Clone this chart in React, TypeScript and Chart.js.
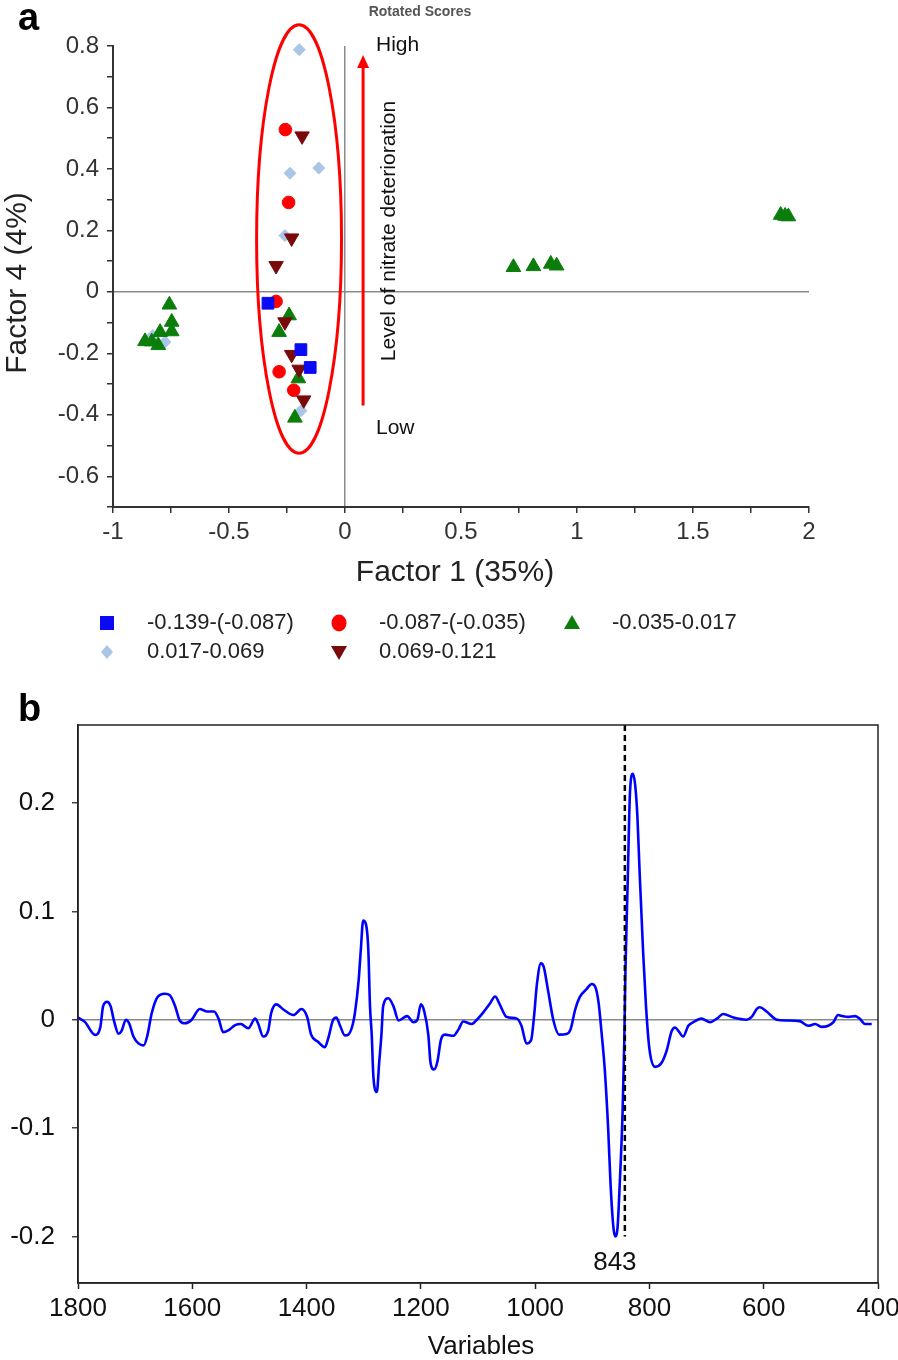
import React, { useEffect, useRef } from "react";
import { Chart, registerables } from "chart.js";

Chart.register(...registerables);

const FONT = "'Liberation Sans', Arial, Helvetica, sans-serif";

// ---------- Panel a: rotated scores ----------
const LEGEND_LABELS = [
  "-0.139-(-0.087)",
  "-0.087-(-0.035)",
  "-0.035-0.017",
  "0.017-0.069",
  "0.069-0.121",
];

const blueSquares = [
  { x: -0.332, y: -0.037 },
  { x: -0.19, y: -0.188 },
  { x: -0.15, y: -0.246 },
];

const redCircles = [
  { x: -0.257, y: 0.528 },
  { x: -0.243, y: 0.291 },
  { x: -0.297, y: -0.031 },
  { x: -0.284, y: -0.26 },
  { x: -0.221, y: -0.32 },
];

const greenTriangles = [
  { x: -0.241, y: -0.077 },
  { x: -0.284, y: -0.131 },
  { x: -0.201, y: -0.282 },
  { x: -0.216, y: -0.41 },
  { x: -0.757, y: -0.042 },
  { x: -0.747, y: -0.098 },
  { x: -0.747, y: -0.129 },
  { x: -0.797, y: -0.131 },
  { x: -0.862, y: -0.161 },
  { x: -0.805, y: -0.174 },
  { x: -0.833, y: -0.162 },
  { x: 0.726, y: 0.08 },
  { x: 0.812, y: 0.083 },
  { x: 0.887, y: 0.091 },
  { x: 0.912, y: 0.085 },
  { x: 1.878, y: 0.25 },
  { x: 1.911, y: 0.245 },
  { x: 1.897, y: 0.247 },
];

const blueDiamonds = [
  { x: -0.197, y: 0.788 },
  { x: -0.237, y: 0.386 },
  { x: -0.113, y: 0.403 },
  { x: -0.259, y: 0.183 },
  { x: -0.19, y: -0.387 },
  { x: -0.776, y: -0.163 },
  { x: -0.828, y: -0.142 },
];

const darkRedTriangles = [
  { x: -0.185, y: 0.507 },
  { x: -0.23, y: 0.175 },
  { x: -0.297, y: 0.085 },
  { x: -0.259, y: -0.098 },
  { x: -0.23, y: -0.204 },
  { x: -0.198, y: -0.252 },
  { x: -0.178, y: -0.352 },
];

const A_X_TICKS = [-1, -0.75, -0.5, -0.25, 0, 0.25, 0.5, 0.75, 1, 1.25, 1.5, 1.75, 2];
const A_Y_TICKS = [-0.7, -0.6, -0.5, -0.4, -0.3, -0.2, -0.1, 0, 0.1, 0.2, 0.3, 0.4, 0.5, 0.6, 0.7, 0.8];

// ellipse and arrow annotation (data units)
const ELLIPSE = { cx: -0.198, cy: 0.172, rx: 0.183, ry: 0.697 };
const ARROW = { x: 0.078, y0: -0.37, y1: 0.771 };

// ---------- Panel b: loadings spectrum ----------
const B_WAVENUMBERS = [
  1800, 1788, 1770, 1761, 1756, 1749, 1743, 1737, 1729, 1724, 1716, 1710, 1703, 1694, 1685, 1679,
  1671, 1661, 1648, 1639, 1630, 1622, 1613, 1601, 1587, 1575, 1562, 1554, 1546, 1537, 1525, 1515,
  1502, 1490, 1485, 1476, 1467, 1462, 1453, 1440, 1423, 1409, 1399, 1392, 1380, 1368, 1362, 1354,
  1348, 1341, 1333, 1327, 1319, 1315, 1309, 1305, 1301, 1296, 1292, 1289, 1286, 1283, 1277, 1273,
  1269, 1266, 1257, 1248, 1239, 1224, 1213, 1206, 1200, 1194, 1187, 1183, 1177, 1171, 1165, 1158,
  1143, 1134, 1126, 1111, 1102, 1091, 1080, 1070, 1062, 1050, 1032, 1024, 1015, 1007, 1002, 997,
  990, 985, 977, 968, 958, 945, 938, 930, 922, 910, 901, 895, 889, 884, 878, 872,
  868, 863, 860, 856, 852, 847, 844, 842, 838, 834, 829, 825, 821, 817, 811, 806,
  800, 790, 779, 770, 761, 755, 749, 741, 732, 723, 709, 694, 682, 671, 653, 630,
  621, 612, 607, 595, 577, 560, 537, 522, 510, 499, 487, 478, 470, 462, 452, 440,
  432, 423, 411,
];

const B_LOADINGS = [
  0.002, -0.002, -0.014, -0.007, 0.0125, 0.0165, 0.0125, -0.001, -0.013, -0.0105, 0.0, -0.004, -0.0155, -0.022, -0.0237, -0.0155,
  0.006, 0.0208, 0.024, 0.0224, 0.0125, -0.0007, -0.0033, 0.0, 0.0099, 0.0076, 0.0076, 0.001, -0.0115, -0.0099, -0.005, -0.004,
  -0.0079, 0.001, -0.0033, -0.0155, -0.0099, 0.006, 0.0142, 0.0092, 0.0043, 0.0099, 0.0026, -0.0138, -0.0204, -0.0254, -0.017, -0.0007,
  0.002, -0.006, -0.0145, -0.0138, -0.004, 0.0076, 0.0356, 0.065, 0.0916, 0.088, 0.065, 0.0125, -0.0138, -0.053, -0.0666, -0.04,
  -0.0138, 0.0125, 0.0198, 0.0125, -0.0007, 0.0033, -0.0023, 0.0, 0.0142, 0.0076, -0.0138, -0.04, -0.046, -0.0386, -0.0188, -0.0138,
  -0.0148, -0.0089, -0.0016, -0.004, 0.0, 0.0066, 0.0142, 0.0214, 0.0142, 0.0026, 0.001, -0.0056, -0.022, -0.0188, 0.0026, 0.0323,
  0.052, 0.0488, 0.0257, -0.0007, -0.0138, -0.0132, -0.0089, 0.0092, 0.0208, 0.0283, 0.033, 0.0306, 0.0158, -0.0105, -0.047, -0.103,
  -0.152, -0.192, -0.2, -0.193, -0.152, -0.086, -0.02, 0.045, 0.128, 0.21, 0.227, 0.217, 0.187, 0.134, 0.062, 0.0125,
  -0.027, -0.0435, -0.04, -0.0287, -0.0105, -0.0072, -0.0105, -0.0155, -0.0056, -0.0023, 0.001, -0.0023, 0.001, 0.0053, 0.002, 0.0,
  0.0026, 0.0099, 0.0115, 0.0076, 0.0, -0.0007, -0.0013, -0.0056, -0.004, -0.0066, -0.0056, -0.0023, 0.0043, 0.0033, 0.0026, 0.0033,
  0.001, -0.004, -0.004,
];

const B_X_TICKS = [400, 600, 800, 1000, 1200, 1400, 1600, 1800];
const B_Y_TICKS = [-0.2, -0.1, 0, 0.1, 0.2];
const B_Y_MIN = -0.243;
const B_Y_MAX = 0.272;
const MARKED_BAND = 843;
const MARKED_BAND_LOW = -0.2;

// ---------- helpers ----------
const COLORS = {
  square: "#0a0af5",
  circle: "#ff0000",
  triangle: "#0b7d0b",
  diamond: "#a9c6e6",
  triDown: "#7a0a0a",
};

function drawMarker(ctx: CanvasRenderingContext2D, kind: string, x: number, y: number) {
  ctx.save();
  ctx.beginPath();
  if (kind === "square") {
    ctx.fillStyle = COLORS.square;
    ctx.rect(x - 7, y - 7, 14, 14);
  } else if (kind === "circle") {
    ctx.fillStyle = COLORS.circle;
    ctx.ellipse(x, y, 7.5, 8.5, 0, 0, Math.PI * 2);
  } else if (kind === "triangle") {
    ctx.fillStyle = COLORS.triangle;
    ctx.moveTo(x, y - 8);
    ctx.lineTo(x + 8, y + 6);
    ctx.lineTo(x - 8, y + 6);
    ctx.closePath();
  } else if (kind === "diamond") {
    ctx.fillStyle = COLORS.diamond;
    ctx.moveTo(x, y - 7);
    ctx.lineTo(x + 6, y);
    ctx.lineTo(x, y + 7);
    ctx.lineTo(x - 6, y);
    ctx.closePath();
  } else {
    ctx.fillStyle = COLORS.triDown;
    ctx.moveTo(x - 8, y - 6);
    ctx.lineTo(x + 8, y - 6);
    ctx.lineTo(x, y + 8);
    ctx.closePath();
  }
  ctx.fill();
  ctx.restore();
}

const annotA = {
  id: "annotA",
  afterDraw(chart: any) {
    const { ctx } = chart;
    const xs = chart.scales.x;
    const ys = chart.scales.y;
    ctx.save();

    // ellipse
    const ecx = xs.getPixelForValue(ELLIPSE.cx);
    const ecy = ys.getPixelForValue(ELLIPSE.cy);
    const erx = xs.getPixelForValue(ELLIPSE.cx + ELLIPSE.rx) - ecx;
    const ery = ecy - ys.getPixelForValue(ELLIPSE.cy + ELLIPSE.ry);
    ctx.beginPath();
    ctx.ellipse(ecx, ecy, erx, ery, 0, 0, Math.PI * 2);
    ctx.strokeStyle = "#ff0000";
    ctx.lineWidth = 3;
    ctx.stroke();

    // arrow
    const ax = xs.getPixelForValue(ARROW.x);
    const ay0 = ys.getPixelForValue(ARROW.y0);
    const ay1 = ys.getPixelForValue(ARROW.y1);
    ctx.beginPath();
    ctx.moveTo(ax, ay0);
    ctx.lineTo(ax, ay1 + 10);
    ctx.lineWidth = 3;
    ctx.stroke();
    ctx.beginPath();
    ctx.moveTo(ax, ay1);
    ctx.lineTo(ax + 6, ay1 + 13);
    ctx.lineTo(ax - 6, ay1 + 13);
    ctx.closePath();
    ctx.fillStyle = "#ff0000";
    ctx.fill();

    // texts
    ctx.fillStyle = "#111";
    ctx.font = `21px ${FONT}`;
    ctx.textBaseline = "middle";
    ctx.textAlign = "left";
    ctx.fillText("High", 376, 45);
    ctx.fillText("Low", 376, 428);

    ctx.save();
    ctx.translate(389, 231);
    ctx.rotate(-Math.PI / 2);
    ctx.textAlign = "center";
    ctx.fillText("Level of nitrate deterioration", 0, 0);
    ctx.restore();

    ctx.fillStyle = "#555";
    ctx.font = `bold 14px ${FONT}`;
    ctx.textAlign = "center";
    ctx.fillText("Rotated Scores", 420, 12);

    ctx.fillStyle = "#000";
    ctx.font = `bold 38px ${FONT}`;
    ctx.textAlign = "left";
    ctx.textBaseline = "alphabetic";
    ctx.fillText("a", 18, 30);

    // axis titles
    ctx.fillStyle = "#222";
    ctx.font = `30px ${FONT}`;
    ctx.textBaseline = "middle";
    ctx.textAlign = "center";
    ctx.fillText("Factor 1 (35%)", 455, 573);
    ctx.save();
    ctx.translate(18, 283);
    ctx.rotate(-Math.PI / 2);
    ctx.fillText("Factor 4 (4%)", 0, 0);
    ctx.restore();

    // legend
    const kinds = ["square", "circle", "triangle", "diamond", "triDown"];
    const colX = [107, 339, 572];
    const rowY = [623, 652];
    ctx.font = `22px ${FONT}`;
    ctx.textAlign = "left";
    ctx.fillStyle = "#222";
    kinds.forEach((k, i) => {
      const cx = colX[i % 3];
      const cy = rowY[Math.floor(i / 3)];
      drawMarker(ctx, k, cx, cy);
      ctx.fillStyle = "#222";
      ctx.fillText(LEGEND_LABELS[i], cx + 40, cy);
    });

    ctx.restore();
  },
};

const annotB = {
  id: "annotB",
  afterDraw(chart: any) {
    const { ctx, chartArea } = chart;
    ctx.save();
    ctx.strokeStyle = "#222";
    ctx.lineWidth = 1.5;
    ctx.strokeRect(chartArea.left, chartArea.top, chartArea.right - chartArea.left, chartArea.bottom - chartArea.top);

    const xs = chart.scales.x;
    ctx.fillStyle = "#111";
    ctx.font = `26px ${FONT}`;
    ctx.textAlign = "center";
    ctx.textBaseline = "middle";
    ctx.fillText(String(MARKED_BAND), xs.getPixelForValue(MARKED_BAND) - 10, 573);
    ctx.fillText("Variables", 481, 657);

    ctx.fillStyle = "#000";
    ctx.font = `bold 38px ${FONT}`;
    ctx.textAlign = "left";
    ctx.textBaseline = "alphabetic";
    ctx.fillText("b", 18, 31);
    ctx.restore();
  },
};

function zeroGrid(ctx: any) {
  return ctx.tick && Math.abs(ctx.tick.value) < 1e-9 ? "#8a8a8a" : "rgba(0,0,0,0)";
}

export default function App() {
  const refA = useRef<HTMLCanvasElement>(null);
  const refB = useRef<HTMLCanvasElement>(null);

  useEffect(() => {
    Chart.defaults.font.family = FONT;

    const mk = (label: string, data: any[], color: string, style: any, radius: number, rotation = 0) => ({
      label,
      data,
      backgroundColor: color,
      borderColor: color,
      borderWidth: 1,
      pointStyle: style,
      pointRadius: radius,
      pointRotation: rotation,
      showLine: false,
      clip: false,
    });

    const chartA = new Chart(refA.current as HTMLCanvasElement, {
      type: "scatter",
      data: {
        datasets: [
          mk(LEGEND_LABELS[0], blueSquares, COLORS.square, "rect", 8.3),
          mk(LEGEND_LABELS[4], darkRedTriangles, COLORS.triDown, "triangle", 8.3, 180),
          mk(LEGEND_LABELS[2], greenTriangles, COLORS.triangle, "triangle", 8.5),
          mk(LEGEND_LABELS[1], redCircles, COLORS.circle, "circle", 6.3),
          mk(LEGEND_LABELS[3], blueDiamonds, COLORS.diamond, "rectRot", 6),
        ] as any,
      },
      options: {
        responsive: false,
        animation: false,
        devicePixelRatio: 1,
        events: [],
        layout: { padding: { left: 0, top: 46, right: 89, bottom: 0 } },
        plugins: { legend: { display: false }, tooltip: { enabled: false } },
        scales: {
          x: {
            type: "linear",
            min: -1,
            max: 2,
            afterBuildTicks: (s: any) => {
              s.ticks = A_X_TICKS.map((v) => ({ value: v }));
            },
            afterFit: (s: any) => {
              s.height = 183;
            },
            grid: { color: zeroGrid, lineWidth: 1.5, tickColor: "#333", tickLength: 6, tickWidth: 1.5 },
            border: { color: "#333", width: 2 },
            ticks: {
              autoSkip: false,
              maxRotation: 0,
              padding: 5,
              color: "#333",
              font: { size: 24, family: FONT },
              callback: (v: any) => {
                const n = Number(v);
                return Math.abs(n * 2 - Math.round(n * 2)) < 1e-6 ? String(Math.round(n * 100) / 100) : "";
              },
            },
          },
          y: {
            type: "linear",
            min: -0.7,
            max: 0.8,
            afterBuildTicks: (s: any) => {
              s.ticks = A_Y_TICKS.map((v) => ({ value: v }));
            },
            afterFit: (s: any) => {
              s.width = 113;
            },
            grid: { color: zeroGrid, lineWidth: 1.5, tickColor: "#333", tickLength: 6, tickWidth: 1.5 },
            border: { color: "#333", width: 2 },
            ticks: {
              autoSkip: false,
              padding: 8,
              color: "#333",
              font: { size: 24, family: FONT },
              callback: (v: any) => {
                const t = Math.round(Number(v) * 10);
                return t % 2 === 0 ? String(t / 10) : "";
              },
            },
          },
        },
      } as any,
      plugins: [annotA],
    });

    const chartB = new Chart(refB.current as HTMLCanvasElement, {
      type: "scatter",
      data: {
        datasets: [
          {
            label: "843",
            data: [
              { x: MARKED_BAND, y: B_Y_MAX },
              { x: MARKED_BAND, y: MARKED_BAND_LOW },
            ],
            showLine: true,
            borderColor: "#000",
            borderWidth: 2.5,
            borderDash: [6, 4],
            pointRadius: 0,
          },
          {
            label: "Loadings",
            data: B_WAVENUMBERS.map((w, i) => ({ x: w, y: B_LOADINGS[i] })),
            showLine: true,
            borderColor: "#0000ff",
            backgroundColor: "#0000ff",
            borderWidth: 2.6,
            pointRadius: 0,
            cubicInterpolationMode: "monotone",
          },
        ] as any,
      },
      options: {
        responsive: false,
        animation: false,
        devicePixelRatio: 1,
        events: [],
        layout: { padding: { left: 0, top: 35, right: 20, bottom: 0 } },
        plugins: { legend: { display: false }, tooltip: { enabled: false } },
        scales: {
          x: {
            type: "linear",
            min: 400,
            max: 1800,
            reverse: true,
            afterBuildTicks: (s: any) => {
              s.ticks = B_X_TICKS.map((v) => ({ value: v }));
            },
            afterFit: (s: any) => {
              s.height = 77;
            },
            grid: { drawOnChartArea: false, tickColor: "#222", tickLength: 6, tickWidth: 1.5 },
            border: { color: "#222", width: 1.5 },
            ticks: {
              autoSkip: false,
              maxRotation: 0,
              padding: 4,
              color: "#111",
              font: { size: 26, family: FONT },
              callback: (v: any) => String(v),
            },
          },
          y: {
            type: "linear",
            min: B_Y_MIN,
            max: B_Y_MAX,
            afterBuildTicks: (s: any) => {
              s.ticks = B_Y_TICKS.map((v) => ({ value: v }));
            },
            afterFit: (s: any) => {
              s.width = 78;
            },
            grid: { color: zeroGrid, lineWidth: 1.5, tickColor: "#444", tickLength: 6, tickWidth: 1.5 },
            border: { color: "#222", width: 1.5 },
            ticks: {
              autoSkip: false,
              padding: 17,
              color: "#111",
              font: { size: 26, family: FONT },
              callback: (v: any) => String(Math.round(Number(v) * 10) / 10),
            },
          },
        },
      } as any,
      plugins: [annotB],
    });

    return () => {
      chartA.destroy();
      chartB.destroy();
    };
  }, []);

  return (
    <div style={{ position: "absolute", left: 0, top: 0, width: 898, height: 1360, background: "#fff" }}>
      <canvas ref={refA} width={898} height={690} style={{ position: "absolute", left: 0, top: 0, width: 898, height: 690 }} />
      <canvas ref={refB} width={898} height={670} style={{ position: "absolute", left: 0, top: 690, width: 898, height: 670 }} />
    </div>
  );
}
